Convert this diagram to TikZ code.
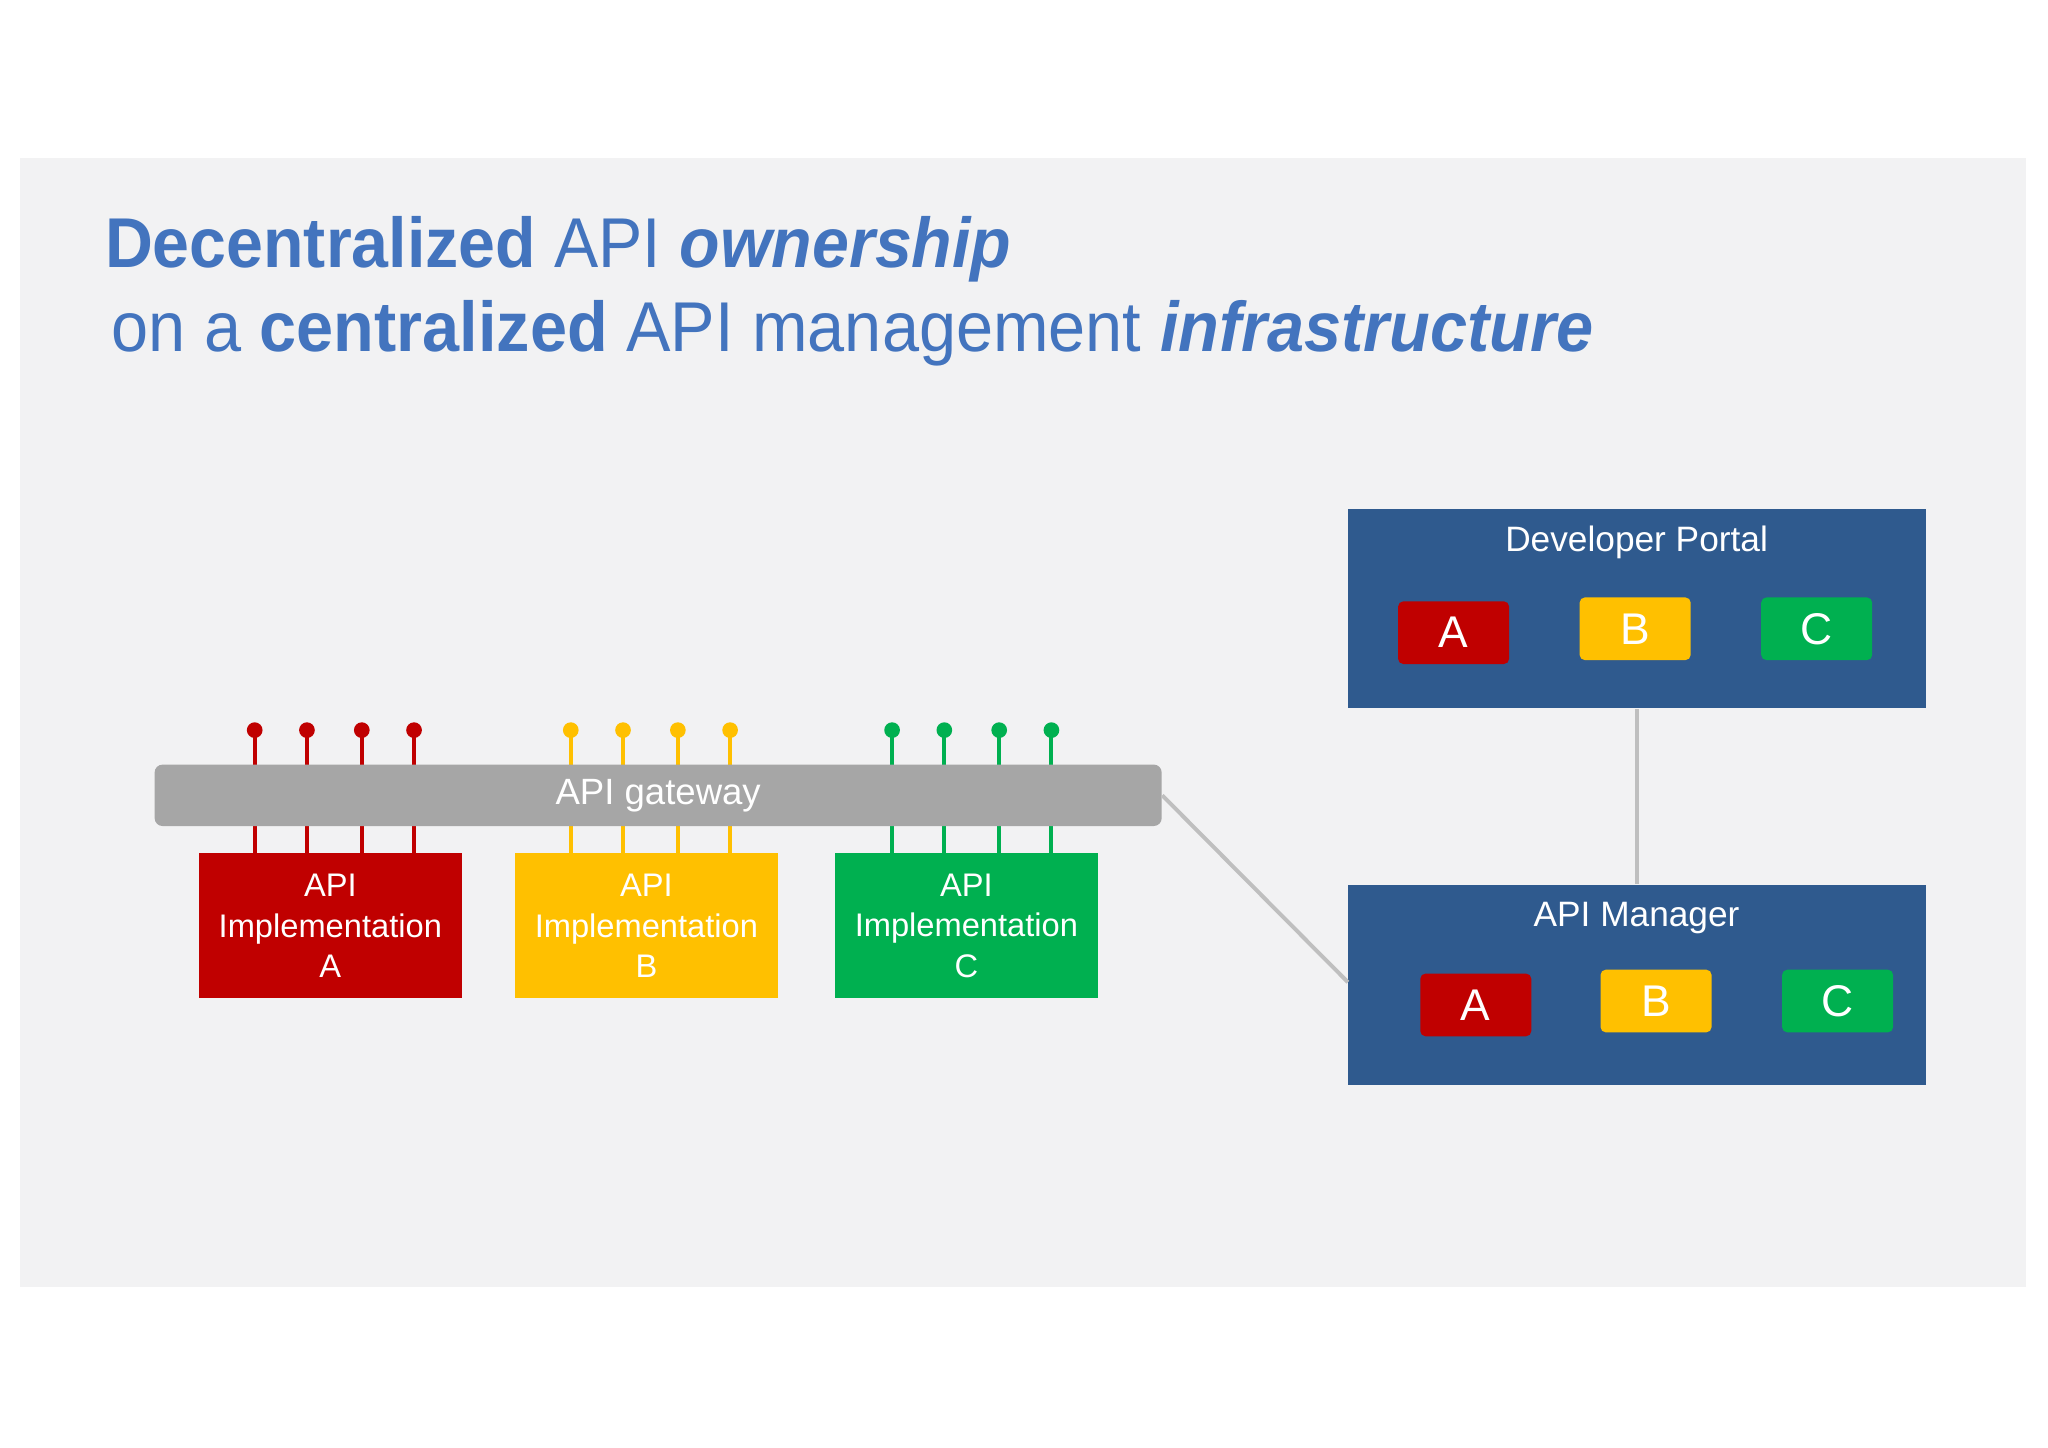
\documentclass[tikz,border=0pt]{standalone}
\usepackage{fontspec}
\usepackage{graphicx}
\setmainfont{Liberation Sans}
\begin{document}
\definecolor{ttl}{HTML}{4374BE}
\definecolor{bg}{HTML}{F2F2F3}
\definecolor{gw}{HTML}{A6A6A6}
\definecolor{cr}{HTML}{C00000}
\definecolor{cy}{HTML}{FFC000}
\definecolor{cg}{HTML}{00B050}
\definecolor{nav}{HTML}{2F5A8E}
\definecolor{lnk}{HTML}{BFBFBF}
\begin{tikzpicture}[x=0.5pt,y=-0.5pt,
  impl/.style={anchor=north west,minimum width=100.5pt,minimum height=55.5pt,inner sep=0pt,text=white,font=\fontsize{12.5}{15.5}\selectfont,align=center},
  big/.style={anchor=north west,fill=nav,minimum width=221pt,minimum height=76.5pt,inner sep=0pt},
  sm/.style={anchor=north west,rounded corners=2pt,minimum width=42.5pt,minimum height=24pt,inner sep=0pt,text=white,font=\fontsize{17}{17}\selectfont},
  pin/.style={line width=1.5pt},
  lk/.style={draw=lnk,line width=1.5pt}]
\useasboundingbox (0,0) rectangle (1568,1108);
\fill[white] (0,0) rectangle (1568,1108);
\fill[bg] (15,121) rectangle (1551,985);
\node[anchor=base west,text=ttl,font=\fontsize{27}{27}\selectfont,inner sep=0pt] (t1) at (80,205) {\scalebox{0.94}[1]{\textbf{Decentralized} API \textbf{\textit{ownership}}}};
\node[anchor=base west,text=ttl,font=\fontsize{27}{27}\selectfont,inner sep=0pt] (t2) at (85,269) {\scalebox{0.945}[1]{on a \textbf{centralized} API management \textbf{\textit{infrastructure}}}};
% pins
\foreach \x in {195,235,277,317}{\draw[pin,cr] (\x,560) -- (\x,653); \fill[cr] (\x,559) circle (3pt);}
\foreach \x in {437,477,519,559}{\draw[pin,cy] (\x,560) -- (\x,653); \fill[cy] (\x,559) circle (3pt);}
\foreach \x in {683,723,765,805}{\draw[pin,cg] (\x,560) -- (\x,653); \fill[cg] (\x,559) circle (3pt);}
\node[anchor=north west,fill=gw,rounded corners=3pt,minimum width=385.5pt,minimum height=23.5pt,inner sep=0pt,text=white,font=\fontsize{14}{14}\selectfont] (gw) at (118,585) {API gateway};
\node[impl,fill=cr] (ia) at (152,653) {API\\Implementation\\A};
\node[impl,fill=cy] (ib) at (394,653) {API\\Implementation\\B};
\node[impl,fill=cg] (ic) at (639,653) {API\\Implementation\\C};
\node[big] (dp) at (1032,389) {};
\node[big] (am) at (1032,677) {};
\draw[lk] (dp.south) -- (am.north);
\coordinate (amw) at (1032,752);
\draw[lk] (gw.east) -- (amw);
\node[text=white,font=\fontsize{13.5}{13.5}\selectfont] (dpt) at (1253,415) {Developer Portal};
\node[text=white,font=\fontsize{13.5}{13.5}\selectfont] (amt) at (1253,703) {API Manager};
\node[sm,fill=cr] (da) at (1070,460) {A};
\node[sm,fill=cy] (db) at (1209,457) {B};
\node[sm,fill=cg] (dc) at (1348,457) {C};
\node[sm,fill=cr] (ma) at (1087,745) {A};
\node[sm,fill=cy] (mb) at (1225,742) {B};
\node[sm,fill=cg] (mc) at (1364,742) {C};
\end{tikzpicture}
\end{document}
